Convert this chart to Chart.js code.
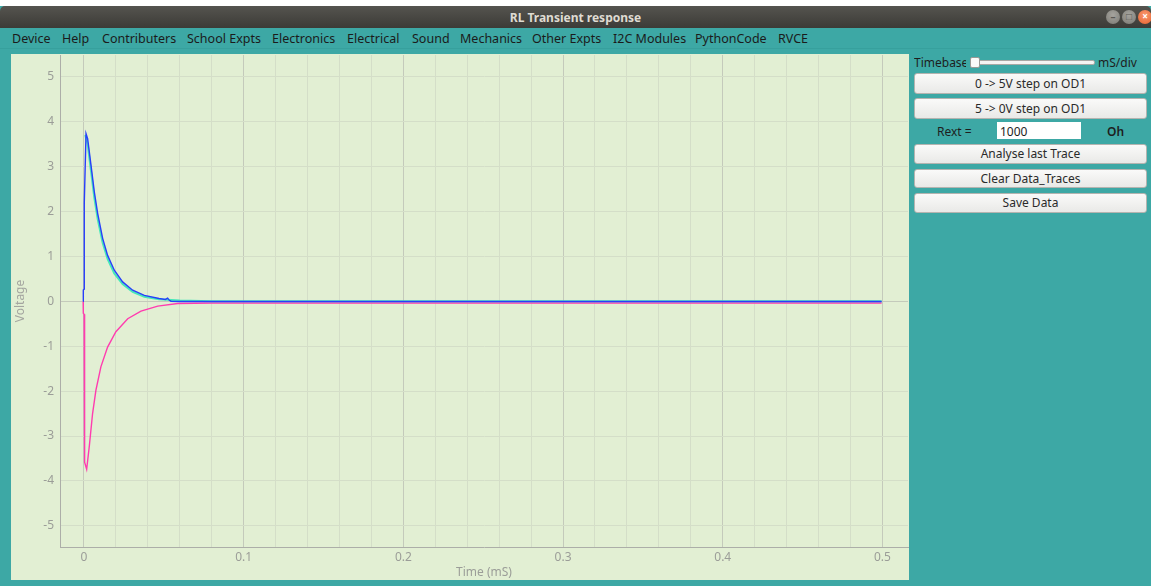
<!DOCTYPE html>
<html>
<head>
<meta charset="utf-8">
<script src="https://cdn.jsdelivr.net/npm/chart.js@4.4.1/dist/chart.umd.min.js"></script>
<style>
  body { margin: 0; width: 1151px; height: 586px; background: #fff; overflow: hidden;
         font-family: "Noto Sans", "Open Sans", sans-serif; }
  #win { position: absolute; left: 0; top: 6px; width: 1151px; height: 580px; background: #3da8a5; }
  #titlebar { position: absolute; left: 0; top: 0; width: 1151px; height: 22px;
              background: linear-gradient(#55544f, #3c3b37); border-radius: 5px 5px 0 0; }
  #titlebar .t { position: absolute; left: 0; width: 1151px; top: 3px; text-align: center;
                 color: #dfdbd2; font-weight: bold; font-size: 12px; }
  .wb { position: absolute; top: 4px; width: 14px; height: 14px; border-radius: 7px;
        background: radial-gradient(circle at 50% 35%, #a6a49e, #7b7a74); }
  .wb.close { background: radial-gradient(circle at 50% 35%, #f89870, #e8622e); }
  .wb span { position: absolute; left: 0; top: -1px; width: 14px; text-align: center;
             font-size: 10px; font-weight: bold; color: #5a5954; }
  .wb.close span { color: #fff; }
  #menu { position: absolute; left: 0; top: 22px; width: 1151px; height: 20px;
          border-bottom: 1px solid #37a09d; }
  #menu span { position: absolute; top: 2px; font-size: 12.5px; color: #1b1b1b; white-space: nowrap; }
  #plot { position: absolute; left: 11px; top: 48px; width: 898px; height: 526px; background: #e2efd3; }
  #panel span { position: absolute; font-size: 12px; color: #1e1e1e; white-space: nowrap; }
  .btn { position: absolute; left: 914px; width: 233px; border: 1px solid #b4b4b0; border-radius: 3px;
         background: linear-gradient(#fafaf9, #e9e9e7); text-align: center; font-size: 12px; color: #2a2a2a;
         box-sizing: border-box; }
</style>
</head>
<body>
<div id="win">
  <div id="titlebar">
    <div class="t">RL Transient response</div>
    <div class="wb" style="left:1106px"><span>&#8211;</span></div>
    <div class="wb" style="left:1122px"><span>&#9633;</span></div>
    <div class="wb close" style="left:1138px"><span>&#215;</span></div>
  </div>
  <div id="menu">
    <span style="left:12px">Device</span>
    <span style="left:62px">Help</span>
    <span style="left:102px">Contributers</span>
    <span style="left:187px">School Expts</span>
    <span style="left:272px">Electronics</span>
    <span style="left:347px">Electrical</span>
    <span style="left:412px">Sound</span>
    <span style="left:460px">Mechanics</span>
    <span style="left:532px">Other Expts</span>
    <span style="left:613px">I2C Modules</span>
    <span style="left:695px">PythonCode</span>
    <span style="left:778px">RVCE</span>
  </div>
  <div id="plot"><canvas id="myChart" width="898" height="526"></canvas></div>
  <div id="panel">
    <span style="left:914px; top:48px; width:52px; overflow:hidden;">Timebase</span>
    <div style="position:absolute; left:975px; top:54px; width:118px; height:3px; background:#f4f4f2; border:1px solid #a8a8a4; border-radius:2px;"></div>
    <div style="position:absolute; left:970px; top:51px; width:8px; height:9px; background:#fbfbfa; border:1px solid #9a9a96; border-radius:2px;"></div>
    <span style="left:1098px; top:48px;">mS/div</span>
    <div class="btn" style="top:67px; height:21px; line-height:19px;">0 -&gt; 5V step on OD1</div>
    <div class="btn" style="top:92px; height:21px; line-height:19px;">5 -&gt; 0V step on OD1</div>
    <span style="left:937px; top:117px;">Rext =</span>
    <div style="position:absolute; left:997px; top:116px; width:84px; height:17px; background:#fff;"></div>
    <span style="left:1000px; top:117px;">1000</span>
    <span style="left:1107px; top:117px; font-weight:600;">Oh</span>
    <div class="btn" style="top:138px; height:20px; line-height:18px;">Analyse last Trace</div>
    <div class="btn" style="top:163px; height:19px; line-height:17px;">Clear Data_Traces</div>
    <div class="btn" style="top:187px; height:20px; line-height:18px;">Save Data</div>
  </div>
</div>
<script>
// traces (time in mS, voltage in V)
const tBlue = [-0.0005, -0.0004, 0.0001, 0.0002, 0.0013, 0.0023, 0.0044, 0.0065, 0.0086, 0.0117, 0.0148,
               0.019, 0.0242, 0.0305, 0.0378, 0.047, 0.051, 0.0524, 0.0535, 0.0545, 0.06, 0.08, 0.1, 0.15,
               0.2, 0.25, 0.3, 0.35, 0.4, 0.45, 0.4995];
const vBlue = [0, 0.25, 0.27, 2.18, 3.73, 3.62, 3.03, 2.43, 1.95, 1.40, 1.02,
               0.69, 0.43, 0.245, 0.13, 0.06, 0.04, 0.07, 0.02, 0.0, -0.005, -0.005, -0.005, -0.005,
               -0.005, -0.005, -0.005, -0.005, -0.005, -0.005, -0.005];

// fitted curve, sits just under/left of the measured trace
const tGreen = [0.0008, 0.0023, 0.0044, 0.0065, 0.0086, 0.0117, 0.0148, 0.019, 0.0242, 0.0305,
                0.0378, 0.047, 0.06, 0.08, 0.12, 0.2, 0.3, 0.4, 0.4995];
const vGreen = [3.70, 3.50, 2.90, 2.30, 1.83, 1.30, 0.94, 0.62, 0.38, 0.21,
                0.10, 0.045, 0.015, 0.0, 0.0, 0.0, 0.0, 0.0, 0.0];

const tPink = [-0.0005, -0.0004, 0.0001, 0.0002, 0.0006, 0.0017, 0.0034, 0.0054, 0.0075, 0.0106, 0.0148,
               0.02, 0.0274, 0.0357, 0.0462, 0.0587, 0.08, 0.12, 0.2, 0.3, 0.4, 0.4995];
const vPink = [0, -0.27, -0.29, -2.2, -3.58, -3.74, -3.21, -2.50, -1.98, -1.46, -1.02,
               -0.68, -0.39, -0.22, -0.11, -0.05, -0.04, -0.04, -0.04, -0.04, -0.04, -0.04];

const yTicks = [-5, -4, -3, -2, -1, 0, 1, 2, 3, 4, 5];
const xGridTicks = [0, 0.02, 0.04, 0.06, 0.08, 0.1, 0.12, 0.14, 0.16, 0.18, 0.2, 0.22, 0.24, 0.26,
                    0.28, 0.3, 0.32, 0.34, 0.36, 0.38, 0.4, 0.42, 0.44, 0.46, 0.48, 0.5];
const xMajorTicks = [0, 0.1, 0.2, 0.3, 0.4, 0.5];

function pts(t, v) {
    return t.map((x, i) => ({ x: x, y: v[i] }));
}
function isMajorX(v) {
    return xMajorTicks.some(m => Math.abs(m - v) < 1e-9);
}

const axisFont = { family: "'Noto Sans', 'Open Sans', sans-serif", size: 12 };
const tickColor = '#9b9d98';

var ctx = document.getElementById("myChart");
var myChart = new Chart(ctx, {
    type: 'line',
    data: {
        datasets: [{
            label: 'trace',
            data: pts(tBlue, vBlue),
            borderColor: 'rgb(40, 62, 250)',
            borderWidth: 1.4,
            pointRadius: 0,
            fill: false
        }, {
            label: 'fit',
            data: pts(tGreen, vGreen),
            borderColor: 'rgb(70, 232, 185)',
            borderWidth: 2,
            pointRadius: 0,
            fill: false
        }, {
            label: 'trace2',
            data: pts(tPink, vPink),
            borderColor: 'rgb(255, 60, 175)',
            borderWidth: 1.4,
            pointRadius: 0,
            fill: false
        }]
    },
    options: {
        responsive: false,
        animation: false,
        devicePixelRatio: 1,
        layout: { padding: { top: 1, right: 1, left: 0, bottom: 0 } },
        plugins: { legend: { display: false }, tooltip: { enabled: false } },
        scales: {
            x: {
                type: 'linear',
                min: -0.015,
                max: 0.516,
                afterBuildTicks: s => { s.ticks = xGridTicks.map(v => ({ value: v })); },
                afterFit: s => { s.height = 33; s.paddingLeft = 0; s.paddingRight = 0; },
                ticks: {
                    autoSkip: false,
                    maxRotation: 0,
                    padding: 3,
                    color: tickColor,
                    font: axisFont,
                    callback: v => isMajorX(v) ? String(+v.toFixed(1)) : ''
                },
                grid: {
                    drawTicks: false,
                    color: c => isMajorX(c.tick.value) ? '#c4cabb' : '#d4dec8'
                },
                border: { color: '#acaea8' },
                title: {
                    display: true,
                    text: 'Time (mS)',
                    color: tickColor,
                    font: axisFont,
                    padding: { top: 0, bottom: 0 }
                }
            },
            y: {
                min: -5.47,
                max: 5.48,
                afterBuildTicks: s => { s.ticks = yTicks.map(v => ({ value: v })); },
                afterFit: s => { s.width = 49; s.paddingTop = 0; s.paddingBottom = 0; },
                ticks: {
                    padding: 6,
                    color: tickColor,
                    font: axisFont
                },
                grid: {
                    drawTicks: false,
                    color: c => c.tick.value === 0 ? '#c4cabb' : '#d4dec8'
                },
                border: { color: '#acaea8' },
                title: {
                    display: true,
                    text: 'Voltage',
                    color: '#a4a6a0',
                    font: axisFont,
                    padding: { top: 2, bottom: 0 }
                }
            }
        }
    }
});
</script>
</body>
</html>
